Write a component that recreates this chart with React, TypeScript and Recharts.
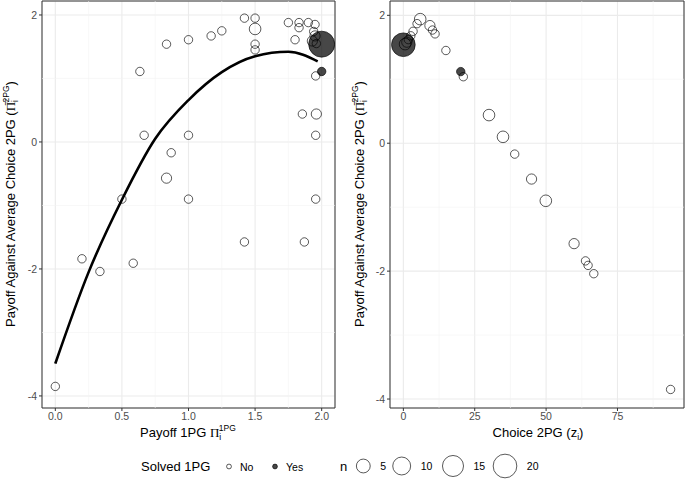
import React from "react";
import {
  ComposedChart,
  XAxis,
  YAxis,
  Scatter,
  Line,
  CartesianGrid,
  ReferenceLine,
  ReferenceArea,
} from "recharts";

// ---------- data ----------
// Left panel: payoff in 1PG (x) vs payoff against average choice in 2PG (y)
const leftNotSolved = [
  { x: 0.0, y: -3.85, n: 1 },
  { x: 0.2, y: -1.84, n: 1 },
  { x: 0.335, y: -2.04, n: 1 },
  { x: 0.5, y: -0.9, n: 1 },
  { x: 0.585, y: -1.91, n: 1 },
  { x: 0.635, y: 1.11, n: 1 },
  { x: 0.667, y: 0.105, n: 1 },
  { x: 0.835, y: 1.54, n: 1 },
  { x: 0.835, y: -0.57, n: 2 },
  { x: 0.87, y: -0.17, n: 1 },
  { x: 1.0, y: 1.61, n: 1 },
  { x: 1.0, y: 0.105, n: 1 },
  { x: 1.0, y: -0.9, n: 1 },
  { x: 1.17, y: 1.67, n: 1 },
  { x: 1.25, y: 1.75, n: 1 },
  { x: 1.42, y: 1.95, n: 1 },
  { x: 1.42, y: -1.575, n: 1 },
  { x: 1.5, y: 1.95, n: 1 },
  { x: 1.5, y: 1.78, n: 3 },
  { x: 1.5, y: 1.54, n: 1 },
  { x: 1.5, y: 1.45, n: 1 },
  { x: 1.75, y: 1.88, n: 1 },
  { x: 1.8, y: 1.61, n: 1 },
  { x: 1.83, y: 1.88, n: 1 },
  { x: 1.83, y: 1.8, n: 1 },
  { x: 1.855, y: 0.44, n: 1 },
  { x: 1.87, y: -1.575, n: 1 },
  { x: 1.9, y: 1.88, n: 1 },
  { x: 1.95, y: 1.85, n: 1 },
  { x: 1.94, y: 1.74, n: 1 },
  { x: 1.95, y: 1.67, n: 2 },
  { x: 1.93, y: 1.59, n: 2 },
  { x: 1.96, y: 1.55, n: 1 },
  { x: 1.955, y: 1.04, n: 1 },
  { x: 1.96, y: 0.44, n: 2 },
  { x: 1.955, y: 0.105, n: 1 },
  { x: 1.955, y: -0.9, n: 1 },
];
const leftSolved = [
  { x: 2.0, y: 1.54, n: 25 },
  { x: 2.0, y: 1.11, n: 1 },
];
// fitted curve
const fitCurve = [
  { x: 0.0, y: -3.49 },
  { x: 0.25, y: -2.05 },
  { x: 0.5, y: -0.91 },
  { x: 0.75, y: 0.05 },
  { x: 1.0, y: 0.66 },
  { x: 1.25, y: 1.1 },
  { x: 1.5, y: 1.35 },
  { x: 1.75, y: 1.42 },
  { x: 1.97, y: 1.27 },
];

// Right panel: choice in 2PG (x) vs payoff against average choice in 2PG (y)
const rightNotSolved = [
  { x: 0.6, y: 1.55, n: 3 },
  { x: 1.2, y: 1.58, n: 2 },
  { x: 1.75, y: 1.62, n: 1 },
  { x: 2.6, y: 1.68, n: 1 },
  { x: 3.4, y: 1.75, n: 1 },
  { x: 4.8, y: 1.87, n: 1 },
  { x: 5.9, y: 1.94, n: 3 },
  { x: 9.3, y: 1.84, n: 2 },
  { x: 10.2, y: 1.77, n: 1 },
  { x: 11.1, y: 1.71, n: 1 },
  { x: 14.9, y: 1.45, n: 1 },
  { x: 21.0, y: 1.04, n: 1 },
  { x: 30.0, y: 0.44, n: 3 },
  { x: 34.9, y: 0.1, n: 3 },
  { x: 39.0, y: -0.17, n: 1 },
  { x: 44.9, y: -0.56, n: 2 },
  { x: 49.9, y: -0.9, n: 3 },
  { x: 59.8, y: -1.57, n: 2 },
  { x: 63.8, y: -1.84, n: 1 },
  { x: 64.7, y: -1.91, n: 1 },
  { x: 66.7, y: -2.04, n: 1 },
  { x: 93.6, y: -3.85, n: 1 },
];
const rightSolved = [
  { x: 0, y: 1.54, n: 20 },
  { x: 20.1, y: 1.12, n: 1 },
];

// axes
const leftXTicks = [0, 0.5, 1, 1.5, 2];
const leftXMinor = [0.25, 0.75, 1.25, 1.75];
const rightXTicks = [0, 25, 50, 75];
const rightXMinor = [12.5, 37.5, 62.5, 87.5];
const yTicks = [-4, -2, 0, 2];
const yMinor = [-3, -1, 1];
const legendSizes = [5, 10, 15, 20];
const legendSolved = ["No", "Yes"];

// ---------- styles ----------
const FONT = '"Liberation Sans", Arial, Helvetica, sans-serif';
const SERIF = '"Liberation Serif", "DejaVu Serif", serif';
const leftXDomain: [number, number] = [-0.1, 2.1];
const leftYDomain: [number, number] = [-4.19, 2.22];
const rightXDomain: [number, number] = [-4.68, 98.3];
const rightYDomain: [number, number] = [-4.14, 2.224];

const radius = (n: number) => 2.2 * Math.sqrt(n) + 2.0;

const OpenDot = (p: any) => {
  if (p.cx == null || p.cy == null) return <g />;
  return (
    <circle
      cx={p.cx}
      cy={p.cy}
      r={radius(p.payload.n)}
      fill="none"
      stroke="#000"
      strokeOpacity={0.72}
      strokeWidth={0.9}
    />
  );
};
const FilledDot = (p: any) => {
  if (p.cx == null || p.cy == null) return <g />;
  return (
    <circle
      cx={p.cx}
      cy={p.cy}
      r={radius(p.payload.n)}
      fill="#000"
      fillOpacity={0.72}
      stroke="#000"
      strokeOpacity={0.72}
      strokeWidth={0.9}
    />
  );
};

const tickStyle = { fill: "#4d4d4d", fontSize: 10.5, fontFamily: FONT };

function Panel(props: {
  width: number;
  yAxisWidth: number;
  marginRight: number;
  xDomain: [number, number];
  yDomain: [number, number];
  xTicks: number[];
  xMinor: number[];
  fmt: (v: number) => string;
  open: any[];
  solved: any[];
  curve?: any[];
}) {
  const { xDomain, yDomain } = props;
  return (
    <ComposedChart
      width={props.width}
      height={482}
      margin={{ top: 1, right: props.marginRight, bottom: 0, left: 0 }}
    >
      {props.xMinor.map((v) => (
        <ReferenceLine key={"xm" + v} x={v} stroke="#f3f3f3" strokeWidth={0.6} />
      ))}
      {yMinor.map((v) => (
        <ReferenceLine key={"ym" + v} y={v} stroke="#f3f3f3" strokeWidth={0.6} />
      ))}
      <CartesianGrid stroke="#ebebeb" strokeWidth={1.1} />
      <XAxis
        type="number"
        dataKey="x"
        domain={xDomain}
        ticks={props.xTicks}
        tickFormatter={props.fmt}
        allowDataOverflow
        interval={0}
        height={74}
        axisLine={false}
        tickSize={3}
        tickMargin={2}
        tickLine={{ stroke: "#333" }}
        tick={tickStyle}
      />
      <YAxis
        type="number"
        dataKey="y"
        domain={yDomain}
        ticks={yTicks}
        allowDataOverflow
        interval={0}
        width={props.yAxisWidth}
        axisLine={false}
        tickSize={3}
        tickMargin={2}
        tickLine={{ stroke: "#333" }}
        tick={tickStyle}
      />
      <Scatter data={props.solved} shape={FilledDot} isAnimationActive={false} />
      <Scatter data={props.open} shape={OpenDot} isAnimationActive={false} />
      {props.curve ? (
        <Line
          data={props.curve}
          dataKey="y"
          type="monotone"
          stroke="#000"
          strokeWidth={2.6}
          dot={false}
          activeDot={false}
          isAnimationActive={false}
        />
      ) : null}
      <ReferenceArea
        x1={xDomain[0]}
        x2={xDomain[1]}
        y1={yDomain[0]}
        y2={yDomain[1]}
        fill="none"
        stroke="#333"
        strokeWidth={1}
        ifOverflow="visible"
      />
    </ComposedChart>
  );
}

const Pi = ({ bar }: { bar?: boolean }) => (
  <tspan fontFamily={SERIF}>{bar ? "Π\u0305" : "Π"}</tspan>
);

export default function App() {
  return (
    <div
      style={{
        position: "absolute",
        left: 0,
        top: 0,
        width: 685,
        height: 482,
        background: "#fff",
        fontFamily: FONT,
        overflow: "hidden",
      }}
    >
      <div style={{ position: "absolute", left: 0, top: 0 }}>
        <Panel
          width={340}
          yAxisWidth={42}
          marginRight={5}
          xDomain={leftXDomain}
          yDomain={leftYDomain}
          xTicks={leftXTicks}
          xMinor={leftXMinor}
          fmt={(v) => v.toFixed(1)}
          open={leftNotSolved}
          solved={leftSolved}
          curve={fitCurve}
        />
      </div>
      <div style={{ position: "absolute", left: 342, top: 0 }}>
        <Panel
          width={343}
          yAxisWidth={48}
          marginRight={1}
          xDomain={rightXDomain}
          yDomain={rightYDomain}
          xTicks={rightXTicks}
          xMinor={rightXMinor}
          fmt={(v) => String(v)}
          open={rightNotSolved}
          solved={rightSolved}
        />
      </div>
      <svg
        width={685}
        height={482}
        style={{ position: "absolute", left: 0, top: 0, pointerEvents: "none" }}
        fontFamily={FONT}
      >
        {/* y axis titles */}
        {[15, 364].map((bx) => (
          <text
            key={bx}
            transform={`translate(${bx},204) rotate(-90)`}
            textAnchor="middle"
            fontSize={13}
            fill="#000"
          >
            Payoff Against Average Choice 2PG (
            <Pi bar />
            <tspan fontSize={8.5} dy={3}>i</tspan>
            <tspan fontSize={8.5} dx={-2.4} dy={-9}>2PG</tspan>
            <tspan dy={6}>)</tspan>
          </text>
        ))}
        {/* x axis titles */}
        <text x={188} y={437} textAnchor="middle" fontSize={13} fill="#000">
          Payoff 1PG <Pi />
          <tspan fontSize={8.5} dy={3}>i</tspan>
          <tspan fontSize={8.5} dx={-2.4} dy={-9}>1PG</tspan>
        </text>
        <text x={538} y={437} textAnchor="middle" fontSize={13} fill="#000">
          Choice 2PG (z
          <tspan fontSize={8.5} dy={3}>i</tspan>
          <tspan dy={-3}>)</tspan>
        </text>
        {/* legend: solved */}
        <text x={141} y={471} fontSize={13} fill="#000">Solved 1PG</text>
        {legendSolved.map((lab, i) => (
          <g key={lab}>
            <circle
              cx={229 + i * 46}
              cy={466.5}
              r={2.4}
              fill={i === 1 ? "#000" : "none"}
              fillOpacity={0.72}
              stroke="#000"
              strokeOpacity={0.72}
              strokeWidth={0.9}
            />
            <text x={240 + i * 46} y={470.5} fontSize={10.5} fill="#000">
              {lab}
            </text>
          </g>
        ))}
        {/* legend: n */}
        <text x={340} y={471} fontSize={13} fill="#000">n</text>
        {legendSizes.map((n, i) => {
          const cx = [363.3, 401.7, 453, 505][i];
          return (
            <g key={n}>
              <circle
                cx={cx}
                cy={466}
                r={radius(n)}
                fill="none"
                stroke="#000"
                strokeOpacity={0.72}
                strokeWidth={0.9}
              />
              <text x={cx + radius(n) + 10} y={470} fontSize={10.5} fill="#000">
                {n}
              </text>
            </g>
          );
        })}
      </svg>
    </div>
  );
}
